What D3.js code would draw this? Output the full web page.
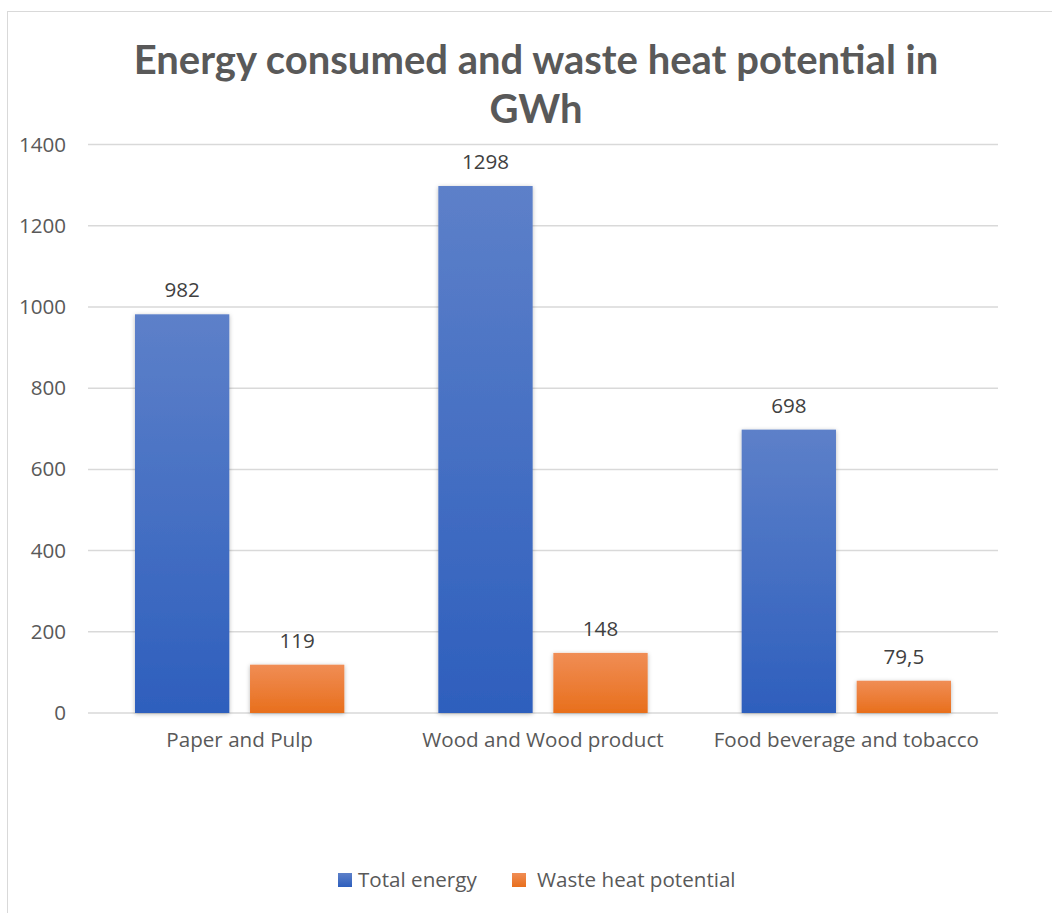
<!DOCTYPE html>
<html>
<head>
<meta charset="utf-8">
<script src="https://cdn.jsdelivr.net/npm/d3@7"></script>
<style>
  html, body { margin: 0; padding: 0; background: #fff; }
  svg { display: block; font-family: "Open Sans", Lato, sans-serif; }
</style>
</head>
<body>
<svg id="chart" width="1052" height="913"></svg>
<script>
// Industry sectors and their energy figures (GWh)
const categories = ["Paper and Pulp", "Wood and Wood product", "Food beverage and tobacco"];
const seriesNames = ["Total energy", "Waste heat potential"];
const totalEnergy = [982, 1298, 698];
const wasteHeat = [119, 148, 79.5];
const yTicks = [0, 200, 400, 600, 800, 1000, 1200, 1400];
const titleLines = ["Energy consumed and waste heat potential in", "GWh"];

const svg = d3.select("#chart");
const plot = { left: 88, right: 998, top: 144.6, bottom: 713 };
const fmt = v => String(v).replace(".", ",");
const labelFont = "'Open Sans', Lato, sans-serif";
const labelSize = 20.6;

const defs = svg.append("defs");
const gradients = [
  { id: "gBlue", top: "#5d80c9", bottom: "#2e5fbd" },
  { id: "gOrange", top: "#f08d55", bottom: "#e86f1c" }
];
gradients.forEach(g => {
  const lg = defs.append("linearGradient").attr("id", g.id)
    .attr("x1", 0).attr("y1", 0).attr("x2", 0).attr("y2", 1);
  lg.append("stop").attr("offset", "0%").attr("stop-color", g.top);
  lg.append("stop").attr("offset", "100%").attr("stop-color", g.bottom);
});
const shadow = defs.append("filter").attr("id", "barShadow")
  .attr("x", "-20%").attr("y", "-20%").attr("width", "140%").attr("height", "140%");
shadow.append("feDropShadow").attr("dx", 0).attr("dy", 1)
  .attr("stdDeviation", 2).attr("flood-color", "#000").attr("flood-opacity", 0.28);

// Chart frame
svg.append("rect").attr("x", 7.5).attr("y", 11.5).attr("width", 1100).attr("height", 1000)
  .attr("fill", "#fff").attr("stroke", "#d9d9d9").attr("stroke-width", 1);

// Title
const title = svg.append("text").attr("text-anchor", "middle")
  .attr("fill", "#595959").attr("font-weight", "bold").attr("font-size", 40)
  .attr("font-family", "Lato, sans-serif");
title.selectAll("tspan").data(titleLines).join("tspan")
  .attr("x", 536).attr("y", (d, i) => 74 + i * 49).text(d => d);

// Scales
const x0 = d3.scaleBand().domain(categories).range([plot.left, plot.right]).paddingInner(0).paddingOuter(0);
const x1 = d3.scaleBand().domain(seriesNames).range([47, x0.bandwidth() - 47]).paddingInner(0.18);
const y = d3.scaleLinear().domain([0, 1400]).range([plot.bottom, plot.top]);

// Gridlines
svg.append("g").selectAll("line").data(yTicks).join("line")
  .attr("x1", plot.left).attr("x2", plot.right)
  .attr("y1", d => y(d)).attr("y2", d => y(d))
  .attr("stroke", "#d9d9d9").attr("stroke-width", 1.5);

// Y axis labels
const yAxis = d3.axisLeft(y).tickValues(yTicks).tickSize(0).tickPadding(0).tickFormat(d => d);
const yg = svg.append("g").attr("transform", `translate(66,0)`).call(yAxis);
yg.select(".domain").remove();
yg.selectAll("text").attr("fill", "#595959").attr("font-size", labelSize)
  .attr("font-family", labelFont);

// Category labels
const xAxis = d3.axisBottom(x0).tickSize(0).tickPadding(0);
const xg = svg.append("g").attr("transform", `translate(0,${plot.bottom + 19})`).call(xAxis);
xg.select(".domain").remove();
xg.selectAll("text").attr("fill", "#595959").attr("font-size", labelSize)
  .attr("font-family", labelFont);

// Bars
const rows = categories.map((c, i) => ({ cat: c, values: [totalEnergy[i], wasteHeat[i]] }));
const groups = svg.append("g").selectAll("g").data(rows).join("g")
  .attr("transform", d => `translate(${x0(d.cat)},0)`);
const items = groups.selectAll("g").data(d => d.values.map((v, k) => ({ key: seriesNames[k], v, k })))
  .join("g");
items.append("rect")
  .attr("x", d => x1(d.key)).attr("width", x1.bandwidth())
  .attr("y", d => y(d.v)).attr("height", d => y(0) - y(d.v))
  .attr("fill", d => d.k === 0 ? "url(#gBlue)" : "url(#gOrange)")
  .attr("filter", "url(#barShadow)");
items.append("text")
  .attr("x", d => x1(d.key) + x1.bandwidth() / 2)
  .attr("y", d => y(d.v) - 17)
  .attr("text-anchor", "middle").attr("fill", "#404040").attr("font-size", labelSize)
  .text(d => fmt(d.v));

// Legend
const legend = svg.append("g");
const legendItems = [
  { name: seriesNames[0], sx: 338, tx: 358, fill: "url(#gBlue)" },
  { name: seriesNames[1], sx: 512, tx: 537, fill: "url(#gOrange)" }
];
legendItems.forEach(l => {
  legend.append("rect").attr("x", l.sx).attr("y", 873).attr("width", 14).attr("height", 14).attr("fill", l.fill);
  legend.append("text").attr("x", l.tx).attr("y", 887).attr("fill", "#595959")
    .attr("font-size", labelSize).text(l.name);
});
</script>
</body>
</html>
